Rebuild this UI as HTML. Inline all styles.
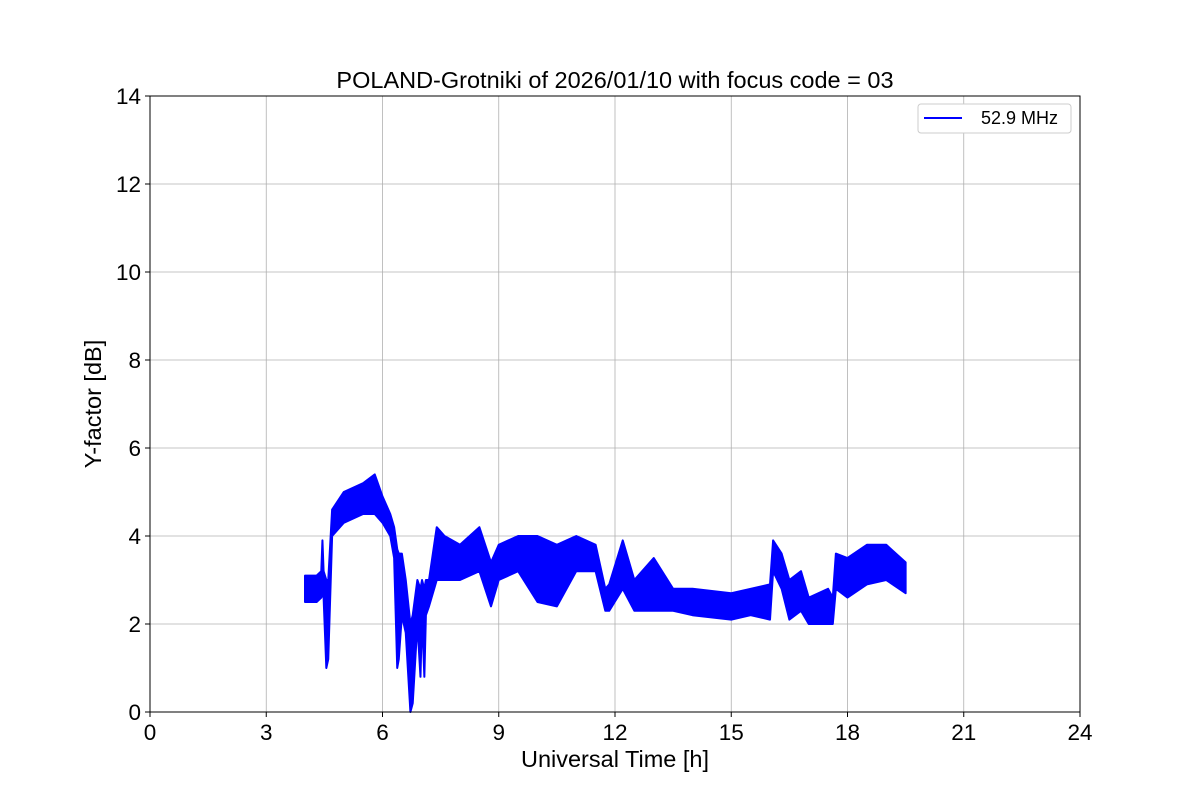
<!DOCTYPE html>
<html><head><meta charset="utf-8">
<style>
body{margin:0;background:#fff;}
svg{display:block;font-family:"Liberation Sans","DejaVu Sans",sans-serif;}
</style></head>
<body>
<svg id="chart" width="1200" height="800" viewBox="0 0 1200 800"></svg>
<script>
const times = [4.0,4.3,4.42,4.45,4.48,4.55,4.6,4.7,5.0,5.5,5.8,6.0,6.2,6.3,6.38,6.42,6.5,6.6,6.72,6.78,6.9,6.98,7.02,7.08,7.12,7.2,7.4,7.6,8.0,8.5,8.8,9.0,9.5,10.0,10.5,11.0,11.5,11.75,11.85,12.2,12.5,13.0,13.5,14.0,15.0,15.5,16.0,16.08,16.3,16.5,16.8,17.0,17.5,17.62,17.7,18.0,18.5,19.0,19.5];
const lows  = [2.5,2.5,2.6,2.7,2.6,1.0,1.2,4.0,4.3,4.5,4.5,4.3,4.0,3.5,1.0,1.2,2.2,1.8,0.0,0.2,2.0,0.8,2.2,0.8,2.2,2.4,3.0,3.0,3.0,3.2,2.4,3.0,3.2,2.5,2.4,3.2,3.2,2.3,2.3,2.8,2.3,2.3,2.3,2.2,2.1,2.2,2.1,3.2,2.8,2.1,2.3,2.0,2.0,2.0,2.8,2.6,2.9,3.0,2.7];
const highs = [3.1,3.1,3.2,3.9,3.2,3.0,3.0,4.6,5.0,5.2,5.4,4.9,4.5,4.2,3.7,3.6,3.6,3.0,2.0,2.2,3.0,2.8,3.0,2.8,3.0,3.0,4.2,4.0,3.8,4.2,3.4,3.8,4.0,4.0,3.8,4.0,3.8,2.8,2.9,3.9,3.0,3.5,2.8,2.8,2.7,2.8,2.9,3.9,3.6,3.0,3.2,2.6,2.8,2.6,3.6,3.5,3.8,3.8,3.4];
const xTicks = [0,3,6,9,12,15,18,21,24];
const yTicks = [0,2,4,6,8,10,12,14];

const NS="http://www.w3.org/2000/svg";
const svg=document.getElementById('chart');
const L=150,R=1080,T=96,B=712;
const xs=t=>L+(t/24)*(R-L);
const ys=v=>B-(v/14)*(B-T);
function mk(tag,attrs,text){const e=document.createElementNS(NS,tag);for(const k in attrs)e.setAttribute(k,attrs[k]);if(text!==undefined)e.textContent=text;svg.appendChild(e);return e;}

xTicks.forEach(t=>{const g=mk('line',{x1:xs(t),x2:xs(t),y1:T,y2:B,stroke:'#b0b0b0','stroke-width':0.8});

});
yTicks.forEach(v=>{const g=mk('line',{x1:L,x2:R,y1:ys(v),y2:ys(v),stroke:'#b0b0b0','stroke-width':0.8});

});

let pts=[];
for(let i=0;i<times.length;i++)pts.push(xs(times[i])+','+ys(highs[i]));
for(let i=times.length-1;i>=0;i--)pts.push(xs(times[i])+','+ys(lows[i]));
const band=mk('polygon',{points:pts.join(' '),fill:'#0000ff',stroke:'#0000ff','stroke-width':2,'stroke-linejoin':'round'});



const fr=mk('rect',{x:L,y:T,width:R-L,height:B-T,fill:'none',stroke:'#000','stroke-width':1});



xTicks.forEach(t=>{mk('line',{x1:xs(t),x2:xs(t),y1:B,y2:B+5,stroke:'#000'});
const tx=mk('text',{x:xs(t),y:B+28,'text-anchor':'middle','font-size':22.5},String(t));

});
yTicks.forEach(v=>{mk('line',{x1:L-5,x2:L,y1:ys(v),y2:ys(v),stroke:'#000'});
const tx=mk('text',{x:L-9,y:ys(v)+8,'text-anchor':'end','font-size':22.5},String(v));

});
</script>
<svg style="position:absolute;left:0;top:0" width="1200" height="800">
<text x="615" y="88" text-anchor="middle" font-size="23.5" font-family="Liberation Sans, sans-serif">POLAND-Grotniki of 2026/01/10 with focus code = 03</text>
<text x="615" y="767" text-anchor="middle" font-size="23.5" font-family="Liberation Sans, sans-serif">Universal Time [h]</text>
<text transform="translate(101,404) rotate(-90)" text-anchor="middle" font-size="23.5" font-family="Liberation Sans, sans-serif">Y-factor [dB]</text>
<g>
<rect x="918" y="104" width="153" height="29" rx="3" fill="#fff" stroke="#ccc"/>
<line x1="924" y1="118" x2="962" y2="118" stroke="#0000ff" stroke-width="2"/>
<text x="981" y="124" font-size="18" font-family="Liberation Sans, sans-serif">52.9 MHz</text>
</g>
</svg>
</body></html>
